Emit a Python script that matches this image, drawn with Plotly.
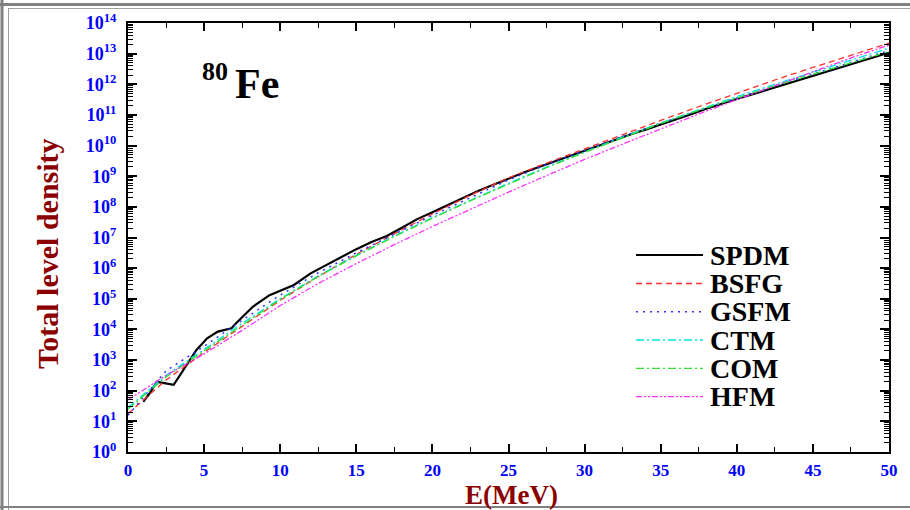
import plotly.graph_objects as go

# ---------------- data (log10 of total level density) ----------------
E_spdm = [1.0, 1.4, 1.9, 3.0, 4.5, 5.2, 5.9, 6.8, 7.1, 8.2, 9.3, 10.1, 10.9, 12.0, 13.0, 14.0,
          15, 16, 17, 18, 19, 20, 21, 22, 23, 24, 25, 26, 27, 28, 29, 30, 31, 32, 33, 34, 35,
          36, 37, 38, 39, 40, 41, 42, 43, 44, 45, 46, 47, 48, 49, 50]
log_spdm = [1.64, 1.90, 2.29, 2.19, 3.33, 3.71, 3.93, 4.04, 4.20, 4.74, 5.12, 5.29, 5.45, 5.83, 6.10, 6.37,
            6.62, 6.85, 7.05, 7.32, 7.60, 7.82, 8.05, 8.30, 8.52, 8.72, 8.93, 9.12, 9.30, 9.48, 9.66,
            9.83, 10.02, 10.18, 10.36, 10.52, 10.68, 10.85, 11.02, 11.20, 11.37, 11.52, 11.67, 11.82,
            11.98, 12.12, 12.28, 12.42, 12.56, 12.72, 12.88, 13.03]

E_model = [0, 2.5, 5, 7.5, 10, 12.5, 15, 17.5, 20, 22.5, 25, 27.5, 30, 32.5, 35, 37.5, 40, 42.5, 45, 47.5, 50]
log_bsfg = [1.25, 2.35, 3.25, 4.10, 4.95, 5.72, 6.45, 7.12, 7.77, 8.38, 8.95, 9.43, 9.90, 10.36, 10.82,
            11.27, 11.71, 12.14, 12.55, 12.95, 13.34]
log_gsfm = [1.20, 2.65, 3.45, 4.30, 5.12, 5.85, 6.50, 7.12, 7.72, 8.30, 8.88, 9.38, 9.85, 10.30, 10.73,
            11.15, 11.55, 11.95, 12.33, 12.72, 13.10]
log_ctm = [1.45, 2.50, 3.35, 4.20, 5.00, 5.75, 6.42, 7.05, 7.65, 8.22, 8.77, 9.30, 9.80, 10.28, 10.74,
           11.18, 11.60, 12.00, 12.40, 12.80, 13.18]
log_com = [1.40, 2.45, 3.30, 4.15, 4.98, 5.73, 6.40, 7.03, 7.63, 8.20, 8.75, 9.28, 9.78, 10.26, 10.72,
           11.15, 11.56, 11.95, 12.33, 12.70, 13.07]
log_hfm = [1.70, 2.50, 3.20, 3.97, 4.78, 5.50, 6.15, 6.77, 7.36, 7.93, 8.48, 9.02, 9.55, 10.05, 10.55,
           11.03, 11.50, 11.96, 12.42, 12.86, 13.28]

x_ticks = [0, 5, 10, 15, 20, 25, 30, 35, 40, 45, 50]
y_exps = list(range(0, 15))
y_ticktext = ["10<sup>%d</sup>" % n for n in y_exps]

series = [
    ("SPDM", E_spdm, log_spdm, "black", "solid", 2.2),
    ("BSFG", E_model, log_bsfg, "#ff3030", "6px,4px", 1.3),
    ("GSFM", E_model, log_gsfm, "#3030ff", "2px,5px", 1.5),
    ("CTM", E_model, log_ctm, "#00e5e5", "8px,3px,2px,3px", 1.3),
    ("COM", E_model, log_com, "#30e030", "8px,3px,2px,3px", 1.3),
    ("HFM", E_model, log_hfm, "#ff30ff", "6px,2px,2px,2px,2px,2px", 1.3),
]

fig = go.Figure()
for name, xs, ls, col, dash, w in series:
    fig.add_trace(go.Scatter(x=xs, y=[10 ** v for v in ls], mode="lines", name=name,
                             line=dict(color=col, dash=dash, width=w), showlegend=False))

# ---------------- layout ----------------
L, R, T, B = 128, 889, 23, 452
W, H = 910, 510
def px(x): return (x - L) / (R - L)
def py(y): return (B - y) / (B - T)

serif = "Liberation Serif, Times New Roman, serif"
minor_y = [k * 10 ** n for n in range(0, 14) for k in range(2, 10)]

fig.update_layout(
    width=W, height=H,
    margin=dict(l=L, r=W - R, t=T, b=H - B),
    plot_bgcolor="white", paper_bgcolor="white",
    font=dict(family=serif),
)
fig.update_xaxes(
    range=[0, 50], tickmode="array", tickvals=x_ticks,
    ticks="inside", ticklen=8, tickwidth=1.5, tickcolor="black",
    showline=True, linecolor="black", linewidth=2, mirror="allticks",
    showgrid=False, zeroline=False,
    tickfont=dict(family=serif, size=17, color="#0000ff", weight="bold"),
    ticklabelstandoff=2,
    minor=dict(tickmode="array", tickvals=[2.5 + 5 * i for i in range(10)], ticks="inside",
               ticklen=5, tickwidth=1.2, tickcolor="black", showgrid=False),
)
fig.update_yaxes(
    type="log", range=[0, 14], tickmode="array", tickvals=[10 ** n for n in y_exps], ticktext=y_ticktext,
    ticks="inside", ticklen=9, tickwidth=1.5, tickcolor="black",
    showline=True, linecolor="black", linewidth=2, mirror="allticks",
    showgrid=False, zeroline=False,
    tickfont=dict(family=serif, size=18, color="#0000ff", weight="bold"),
    ticklabelstandoff=6,
    minor=dict(tickmode="array", tickvals=minor_y, ticks="inside",
               ticklen=5, tickwidth=1, tickcolor="black", showgrid=False),
)

def ann(text, x, y, size, color, xanchor="center", angle=0):
    return dict(text=text, x=px(x), y=py(y), xref="paper", yref="paper", textangle=angle,
                xanchor=xanchor, yanchor="middle", showarrow=False,
                font=dict(family=serif, size=size, color=color))

annotations = [
    ann("<b>Total level density</b>", 47, 254, 30, "#8b0000", angle=-90),
    ann("<b>E(MeV)</b>", 511, 495, 27, "#8b0000"),
    ann("<b>80</b>", 215, 71, 26, "black"),
    ann("<b>Fe</b>", 257, 84, 42, "black"),
]
shapes = []
leg_y = [255, 283.5, 311.7, 340, 368.3, 396.7]
for (name, xs, ls, col, dash, w), yy in zip(series, leg_y):
    shapes.append(dict(type="line", xref="paper", yref="paper", x0=px(636), x1=px(703),
                       y0=py(yy), y1=py(yy), line=dict(color=col, dash=dash, width=w)))
    annotations.append(ann("<b>%s</b>" % name, 708, yy, 28, "black", xanchor="left"))

# outer frame
frame = "#808080"
shapes += [
    dict(type="line", xref="paper", yref="paper", x0=px(0), x1=px(912), y0=py(4.5), y1=py(4.5),
         line=dict(color=frame, width=3)),
    dict(type="line", xref="paper", yref="paper", x0=px(8), x1=px(912), y0=py(8.5), y1=py(8.5),
         line=dict(color="#a0a0a0", width=1)),
    dict(type="line", xref="paper", yref="paper", x0=px(2), x1=px(2), y0=py(0), y1=py(510),
         line=dict(color=frame, width=3)),
    dict(type="line", xref="paper", yref="paper", x0=px(8.5), x1=px(8.5), y0=py(8.5), y1=py(510),
         line=dict(color="#a0a0a0", width=1)),
    dict(type="line", xref="paper", yref="paper", x0=px(0), x1=px(912), y0=py(507), y1=py(507),
         line=dict(color=frame, width=2)),
]
fig.update_layout(annotations=annotations, shapes=shapes)

fig.write_html("out.html", config={"displayModeBar": False},
               post_script="document.body.style.margin='0';document.body.style.overflow='hidden';")
